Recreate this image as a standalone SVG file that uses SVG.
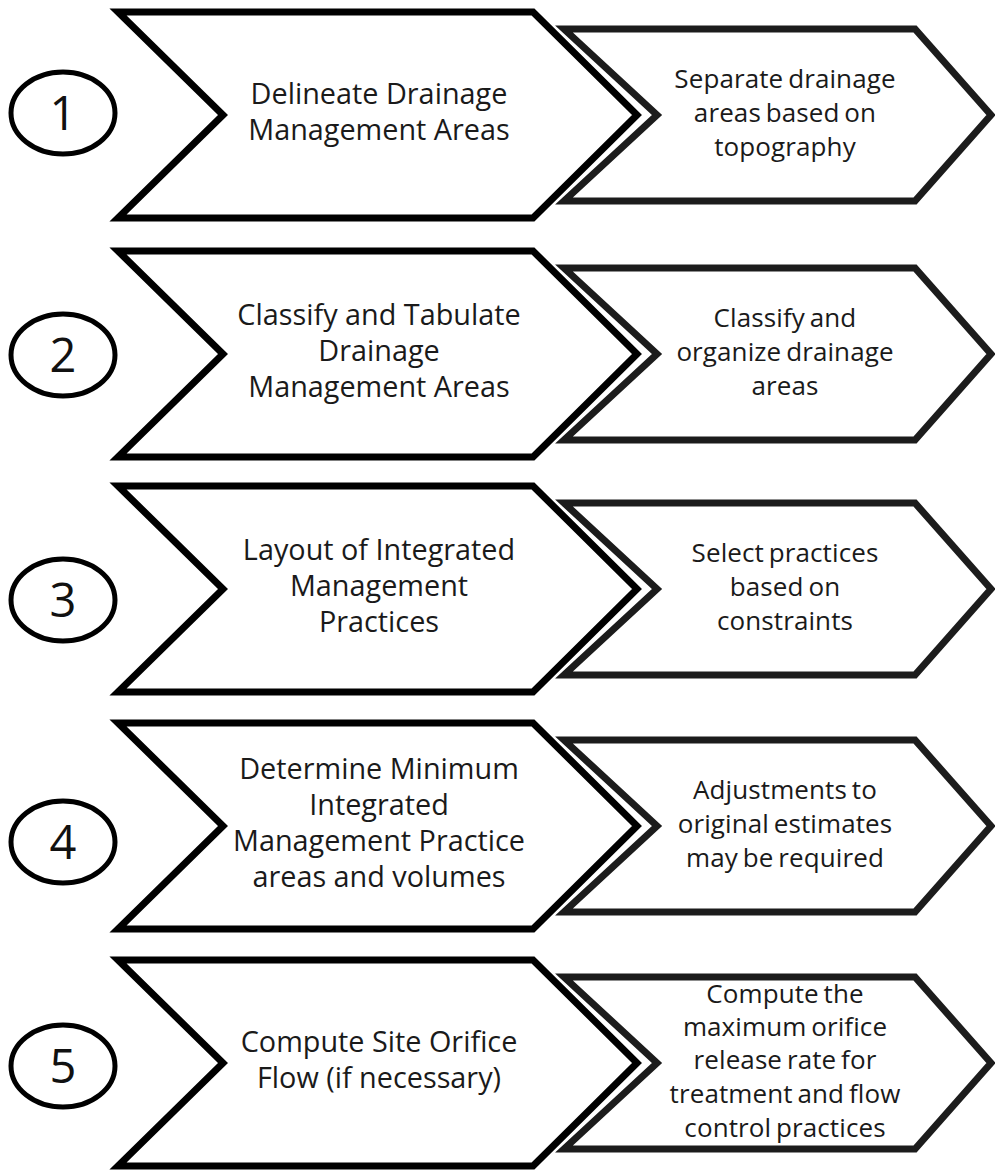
<svg xmlns="http://www.w3.org/2000/svg" width="995" height="1170" viewBox="0 0 995 1170">
  <style>
    .big { fill: #ffffff; stroke: #000000; stroke-width: 7; stroke-linejoin: miter; }
    .small { fill: #ffffff; stroke: #1c1c1c; stroke-width: 7; stroke-linejoin: miter; }
    .num { fill: #ffffff; stroke: #000000; stroke-width: 5; }
    .numtxt { font-family: "Open Sans", "Noto Sans", sans-serif; font-size: 47px; font-weight: 500; fill: #111111; text-anchor: middle; }
    .main { font-family: "Open Sans", "Noto Sans", sans-serif; font-size: 28.8px; font-weight: 500; fill: #1a1a1a; text-anchor: middle; }
    .note { font-family: "Open Sans", "Noto Sans", sans-serif; font-size: 26px; font-weight: 500; fill: #1a1a1a; text-anchor: middle; letter-spacing: 0.1px; word-spacing: -2px; }
  </style>
  <defs>
    <!-- step chevron (large) and detail chevron (small), both drawn about the row centre y=0 -->
    <polygon id="bigChevron" class="big" points="118,-103 533,-103 637,0 533,103 118,103 223,0"/>
    <polygon id="smallChevron" class="small" points="564,-86 915,-86 991,0 915,86 564,86 657,0"/>
  </defs>

  <!-- Step 1 -->
  <g id="step1" transform="translate(0,115)">
    <use href="#smallChevron"/>
    <use href="#bigChevron"/>
    <ellipse class="num" cx="63" cy="-2" rx="52" ry="41"/>
    <text class="numtxt" x="63" y="15">1</text>
    <text class="main" x="379" y="-11">Delineate Drainage</text>
    <text class="main" x="379" y="25">Management Areas</text>
    <text class="note" x="785" y="-27">Separate drainage</text>
    <text class="note" x="785" y="7">areas based on</text>
    <text class="note" x="785" y="41">topography</text>
  </g>

  <!-- Step 2 -->
  <g id="step2" transform="translate(0,354)">
    <use href="#smallChevron"/>
    <use href="#bigChevron"/>
    <ellipse class="num" cx="63" cy="1" rx="52" ry="41"/>
    <text class="numtxt" x="63" y="18">2</text>
    <text class="main" x="379" y="-29">Classify and Tabulate</text>
    <text class="main" x="379" y="7">Drainage</text>
    <text class="main" x="379" y="43">Management Areas</text>
    <text class="note" x="785" y="-27">Classify and</text>
    <text class="note" x="785" y="7">organize drainage</text>
    <text class="note" x="785" y="41">areas</text>
  </g>

  <!-- Step 3 -->
  <g id="step3" transform="translate(0,589)">
    <use href="#smallChevron"/>
    <use href="#bigChevron"/>
    <ellipse class="num" cx="63" cy="11" rx="52" ry="41"/>
    <text class="numtxt" x="63" y="28">3</text>
    <text class="main" x="379" y="-29">Layout of Integrated</text>
    <text class="main" x="379" y="7">Management</text>
    <text class="main" x="379" y="43">Practices</text>
    <text class="note" x="785" y="-27">Select practices</text>
    <text class="note" x="785" y="7">based on</text>
    <text class="note" x="785" y="41">constraints</text>
  </g>

  <!-- Step 4 -->
  <g id="step4" transform="translate(0,826)">
    <use href="#smallChevron"/>
    <use href="#bigChevron"/>
    <ellipse class="num" cx="63" cy="16" rx="52" ry="41"/>
    <text class="numtxt" x="63" y="33">4</text>
    <text class="main" x="379" y="-47">Determine Minimum</text>
    <text class="main" x="379" y="-11">Integrated</text>
    <text class="main" x="379" y="25">Management Practice</text>
    <text class="main" x="379" y="61">areas and volumes</text>
    <text class="note" x="785" y="-27">Adjustments to</text>
    <text class="note" x="785" y="7">original estimates</text>
    <text class="note" x="785" y="41">may be required</text>
  </g>

  <!-- Step 5 -->
  <g id="step5" transform="translate(0,1063)">
    <use href="#smallChevron"/>
    <use href="#bigChevron"/>
    <ellipse class="num" cx="63" cy="3" rx="52" ry="41"/>
    <text class="numtxt" x="63" y="20">5</text>
    <text class="main" x="379" y="-11">Compute Site Orifice</text>
    <text class="main" x="379" y="25">Flow (if necessary)</text>
    <text class="note" x="785" y="-60">Compute the</text>
    <text class="note" x="785" y="-27">maximum orifice</text>
    <text class="note" x="785" y="6">release rate for</text>
    <text class="note" x="785" y="40">treatment and flow</text>
    <text class="note" x="785" y="74">control practices</text>
  </g>

  <!-- no connectors: steps are stacked chevrons -->
  <g id="connectors"/>
</svg>
